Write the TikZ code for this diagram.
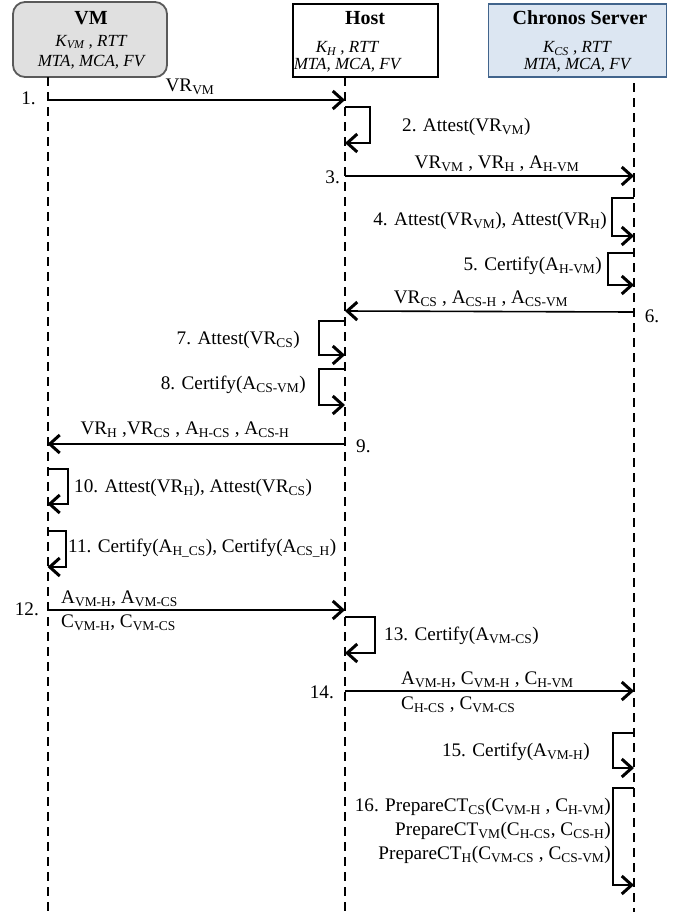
\documentclass[tikz,border=0pt]{standalone}
\usepackage{fontspec}
\setmainfont{Liberation Serif}
\usetikzlibrary{arrows.meta}
\definecolor{vmfill}{RGB}{224,224,224}
\definecolor{vmline}{RGB}{90,90,90}
\definecolor{csfill}{RGB}{220,230,242}
\definecolor{csline}{RGB}{65,100,140}
\newcommand{\sbx}[1]{\textsubscript{#1}}

\begin{document}
\begin{tikzpicture}[x=1pt, y=-1pt,
    lbl/.style={inner sep=0pt, font=\fontsize{19.2}{24}\selectfont},
    ttl/.style={inner sep=0pt, font=\fontsize{20}{24}\selectfont\bfseries},
    attr/.style={inner sep=0pt, align=center, font=\fontsize{17}{17}\selectfont\itshape},
    life/.style={line width=2pt, dash pattern=on 9pt off 6pt},
    msg/.style={line width=1.6pt, -{Straight Barb[length=10pt,width=18pt,line width=3pt]}},
    loopmsg/.style={line width=1.4pt, -{Straight Barb[length=10pt,width=18pt,line width=3pt]}}]
    \useasboundingbox (0,0) rectangle (678,916);

    % participants
    \node[draw=vmline, fill=vmfill, line width=1.8pt, rounded corners=12pt, minimum width=154pt, minimum height=75pt] (vm) at (90,39.5) {};
    \node[ttl] (vmT) at (91,18) {VM};
    \node[attr] (vmA) at (91,52) {K\sbx{VM} , RTT\\[3pt]MTA, MCA, FV};

    \node[draw=black, fill=white, line width=1.3pt, minimum width=145pt, minimum height=73pt] (host) at (365.5,40.5) {};
    \node[ttl] (hostT) at (365,18) {Host};
    \node[attr] (hostA) at (347,57) {K\sbx{H} , RTT\\MTA, MCA, FV};

    \node[draw=csline, fill=csfill, line width=1.5pt, minimum width=178pt, minimum height=73pt] (cs) at (577.5,40.5) {};
    \node[ttl] (csT) at (580,18) {Chronos Server};
    \node[attr] (csA) at (577,57) {K\sbx{CS} , RTT\\MTA, MCA, FV};

    % lifelines
    \coordinate (vmL) at (47.5,77);
    \coordinate (hostL) at (345,77);
    \coordinate (csL) at (634,83);
    \draw[life] (vmL) -- (vmL |- 0,914);
    \draw[life] (hostL) -- (hostL |- 0,914);
    \draw[life] (csL) -- (csL |- 0,912);

    % 1-3
    \draw[msg] (vmL |- 0,100) -- (hostL |- 0,100);
    \node[lbl] (m1) at (190,87) {VR\sbx{VM}};
    \node[lbl, anchor=east] (n1) at (36,98) {1.};
    \draw[loopmsg] (hostL |- 0,107) -| (370,143) -- (hostL |- 0,143);
    \node[lbl, anchor=west] (m2) at (402,127) {2. Attest(VR\sbx{VM})};
    \draw[msg] (hostL |- 0,176) -- (csL |- 0,176);
    \node[lbl] (m3) at (497,164) {VR\sbx{VM} , VR\sbx{H} , A\sbx{H-VM}};
    \node[lbl, anchor=east] (n3) at (340,177) {3.};

    % 4-6
    \draw[loopmsg] (csL |- 0,198) -| (612,236) -- (csL |- 0,236);
    \node[lbl, anchor=east] (m4) at (607,221) {4. Attest(VR\sbx{VM}), Attest(VR\sbx{H})};
    \draw[loopmsg] (csL |- 0,253) -| (608,285) -- (csL |- 0,285);
    \node[lbl, anchor=east] (m5) at (602,266) {5. Certify(A\sbx{H-VM})};
    \draw[msg] (csL |- 0,312) -- (hostL |- 0,311);
    \node[lbl] (m6) at (481,299) {VR\sbx{CS} , A\sbx{CS-H} , A\sbx{CS-VM}};
    \node[lbl] (n6) at (652,316) {6.};

    % 7-9
    \draw[loopmsg] (hostL |- 0,321) -| (319,355) -- (hostL |- 0,355);
    \node[lbl, anchor=east] (m7) at (300,340) {7. Attest(VR\sbx{CS})};
    \draw[loopmsg] (hostL |- 0,369) -| (319,405) -- (hostL |- 0,405);
    \node[lbl, anchor=east] (m8) at (306,385) {8. Certify(A\sbx{CS-VM})};
    \draw[msg] (hostL |- 0,444) -- (vmL |- 0,444);
    \node[lbl] (m9) at (185,430) {VR\sbx{H} ,VR\sbx{CS} , A\sbx{H-CS} , A\sbx{CS-H}};
    \node[lbl, anchor=west] (n9) at (356,446) {9.};

    % 10-12
    \draw[loopmsg] (vmL |- 0,469) -| (68,504) -- (vmL |- 0,504);
    \node[lbl, anchor=west] (m10) at (74,488) {10. Attest(VR\sbx{H}), Attest(VR\sbx{CS})};
    \draw[loopmsg] (vmL |- 0,531) -| (66,567) -- (vmL |- 0,567);
    \node[lbl, anchor=west] (m11) at (68,548) {11. Certify(A\sbx{H\_CS}), Certify(A\sbx{CS\_H})};
    \draw[msg] (vmL |- 0,610) -- (hostL |- 0,610);
    \node[lbl, anchor=west] (m12a) at (61,599) {A\sbx{VM-H}, A\sbx{VM-CS}};
    \node[lbl, anchor=west] (m12b) at (61,623) {C\sbx{VM-H}, C\sbx{VM-CS}};
    \node[lbl, anchor=east] (n12) at (39,609) {12.};

    % 13-16
    \draw[loopmsg] (hostL |- 0,617) -| (375,653) -- (hostL |- 0,653);
    \node[lbl, anchor=west] (m13) at (384,636) {13. Certify(A\sbx{VM-CS})};
    \draw[msg] (hostL |- 0,691) -- (csL |- 0,691);
    \node[lbl, anchor=west] (m14a) at (401,680) {A\sbx{VM-H}, C\sbx{VM-H} , C\sbx{H-VM}};
    \node[lbl, anchor=west] (m14b) at (401,705) {C\sbx{H-CS} , C\sbx{VM-CS}};
    \node[lbl, anchor=east] (n14) at (334,692) {14.};
    \draw[loopmsg] (csL |- 0,733) -| (613,768) -- (csL |- 0,768);
    \node[lbl, anchor=east] (m15) at (590,752) {15. Certify(A\sbx{VM-H})};
    \draw[loopmsg] (csL |- 0,788) -| (613,885) -- (csL |- 0,885);
    \node[lbl, anchor=east, align=right] (m16) at (611,831) {16. PrepareCT\sbx{CS}(C\sbx{VM-H} , C\sbx{H-VM})\\PrepareCT\sbx{VM}(C\sbx{H-CS}, C\sbx{CS-H})\\PrepareCT\sbx{H}(C\sbx{VM-CS} , C\sbx{CS-VM})};
\end{tikzpicture}
\end{document}
